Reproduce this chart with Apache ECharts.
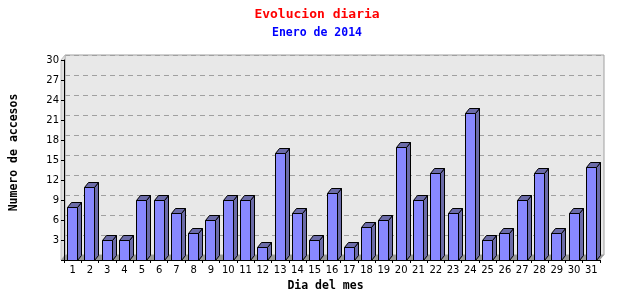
<!DOCTYPE html>
<html>
<head>
<meta charset="utf-8">
<script src="https://cdn.jsdelivr.net/npm/echarts@6/dist/echarts.min.js"></script>
<style>html,body{margin:0;padding:0;background:#fff;}#c{width:640px;height:300px;}</style>
</head>
<body>
<div id="c"></div>
<script>
const titleText = 'Evolucion diaria';
const subtitleText = 'Enero de 2014';
const xAxisName = 'Dia del mes';
const yAxisName = 'Numero de accesos';
const days = ['1','2','3','4','5','6','7','8','9','10','11','12','13','14','15','16','17','18','19','20','21','22','23','24','25','26','27','28','29','30','31'];
const visits = [8,11,3,3,9,9,7,4,6,9,9,2,16,7,3,10,2,5,6,17,9,13,7,22,3,4,9,13,4,7,14];
const yMin = 0, yMax = 30, yStep = 3;

// layout
const FL = 61, FR = 40, FT = 60, FB = 40;   // front plane
const DX = 4, DY = -5;                      // depth offset
const W = 640, H = 300;
const mono = '"DejaVu Sans Mono", monospace';

const chart = echarts.init(document.getElementById('c'), null, {renderer: 'canvas'});

function renderBar(params, api) {
  const idx = api.value(0), v = api.value(1);
  const top = api.coord([idx, v]);
  const base = api.coord([idx, 0]);
  const w = 10;
  const x0 = Math.round(top[0] - 5.5) + 0.5;
  const x1 = x0 + w;
  const ty = Math.round(top[1]) + 0.5;
  const by = Math.round(base[1]) + 0.5;
  const st = {stroke: '#000', lineWidth: 1};
  return {
    type: 'group',
    children: [
      {type: 'polygon', shape: {points: [[x1, ty], [x1 + DX, ty + DY], [x1 + DX, by + DY], [x1, by]]},
        style: Object.assign({fill: '#6b6ba8'}, st)},
      {type: 'polygon', shape: {points: [[x0, ty], [x0 + DX, ty + DY], [x1 + DX, ty + DY], [x1, ty]]},
        style: Object.assign({fill: '#6b6ba8'}, st)},
      {type: 'rect', shape: {x: x0, y: ty, width: w, height: by - ty},
        style: Object.assign({fill: '#8888ff'}, st)}
    ]
  };
}

const frontBottom = H - FB, frontRight = W - FR;
const option = {
  animation: false,
  backgroundColor: '#fff',
  title: [
    {text: titleText, left: 312, top: 3, textAlign: 'center',
      textStyle: {color: '#ff0000', fontFamily: mono, fontWeight: 'bold', fontSize: 13}},
    {text: subtitleText, left: 312, top: 22, textAlign: 'center',
      textStyle: {color: '#0000ff', fontFamily: mono, fontWeight: 'bold', fontSize: 11.5}}
  ],
  grid: [
    {left: FL, right: FR, top: FT, bottom: FB, show: false},
    {left: FL + DX, right: FR - DX, top: FT + DY, bottom: FB - DY, show: true,
      backgroundColor: '#e8e8e8', borderColor: '#a0a0a0', borderWidth: 1}
  ],
  xAxis: [
    {type: 'category', gridIndex: 0, data: days, boundaryGap: true,
      name: xAxisName, nameLocation: 'middle', nameGap: 17,
      nameTextStyle: {fontFamily: mono, fontWeight: 'bold', fontSize: 11.5, color: '#000', padding: [0, 13, 0, 0]},
      axisLine: {show: true, lineStyle: {color: '#000', width: 1}},
      axisTick: {show: true, length: 3, lineStyle: {color: '#000'}},
      axisLabel: {color: '#000', fontFamily: '"DejaVu Sans"', fontSize: 10, margin: 5, interval: 0},
      splitLine: {show: false}, z: 6},
    {type: 'category', gridIndex: 1, data: days, show: false}
  ],
  yAxis: [
    {type: 'value', gridIndex: 0, min: yMin, max: yMax, interval: yStep,
      name: yAxisName, nameLocation: 'middle', nameGap: 44, nameRotate: 90,
      nameTextStyle: {fontFamily: mono, fontWeight: 'bold', fontSize: 11.5, color: '#000', padding: [0, 0, 0, 15]},
      axisLine: {show: true, lineStyle: {color: '#000', width: 1}},
      axisTick: {show: true, length: 3, lineStyle: {color: '#000'}},
      axisLabel: {color: '#000', fontFamily: '"DejaVu Sans"', fontSize: 10, margin: 5,
        formatter: v => (v === 0 ? '' : String(v))},
      splitLine: {show: false}, z: 6},
    {type: 'value', gridIndex: 1, min: yMin, max: yMax, interval: yStep,
      axisLine: {show: false}, axisTick: {show: false}, axisLabel: {show: false},
      splitLine: {show: true, lineStyle: {color: '#a0a0a0', type: [5, 4], width: 1}}}
  ],
  graphic: [
    {type: 'polygon', z: 1, silent: true,
      shape: {points: [[FL, FT], [FL + DX, FT + DY], [FL + DX, frontBottom + DY], [FL, frontBottom]]},
      style: {fill: '#e0e0e0', stroke: '#c0c0c0', lineWidth: 1}},
    {type: 'polygon', z: 1, silent: true,
      shape: {points: [[FL, frontBottom], [frontRight, frontBottom], [frontRight + DX, frontBottom + DY], [FL + DX, frontBottom + DY]]},
      style: {fill: '#9a9a9a'}}
  ],
  series: [
    {type: 'custom', xAxisIndex: 0, yAxisIndex: 0, z: 5,
      data: visits.map((v, i) => [i, v]),
      encode: {x: 0, y: 1},
      renderItem: renderBar}
  ]
};
chart.setOption(option);
</script>
</body>
</html>
